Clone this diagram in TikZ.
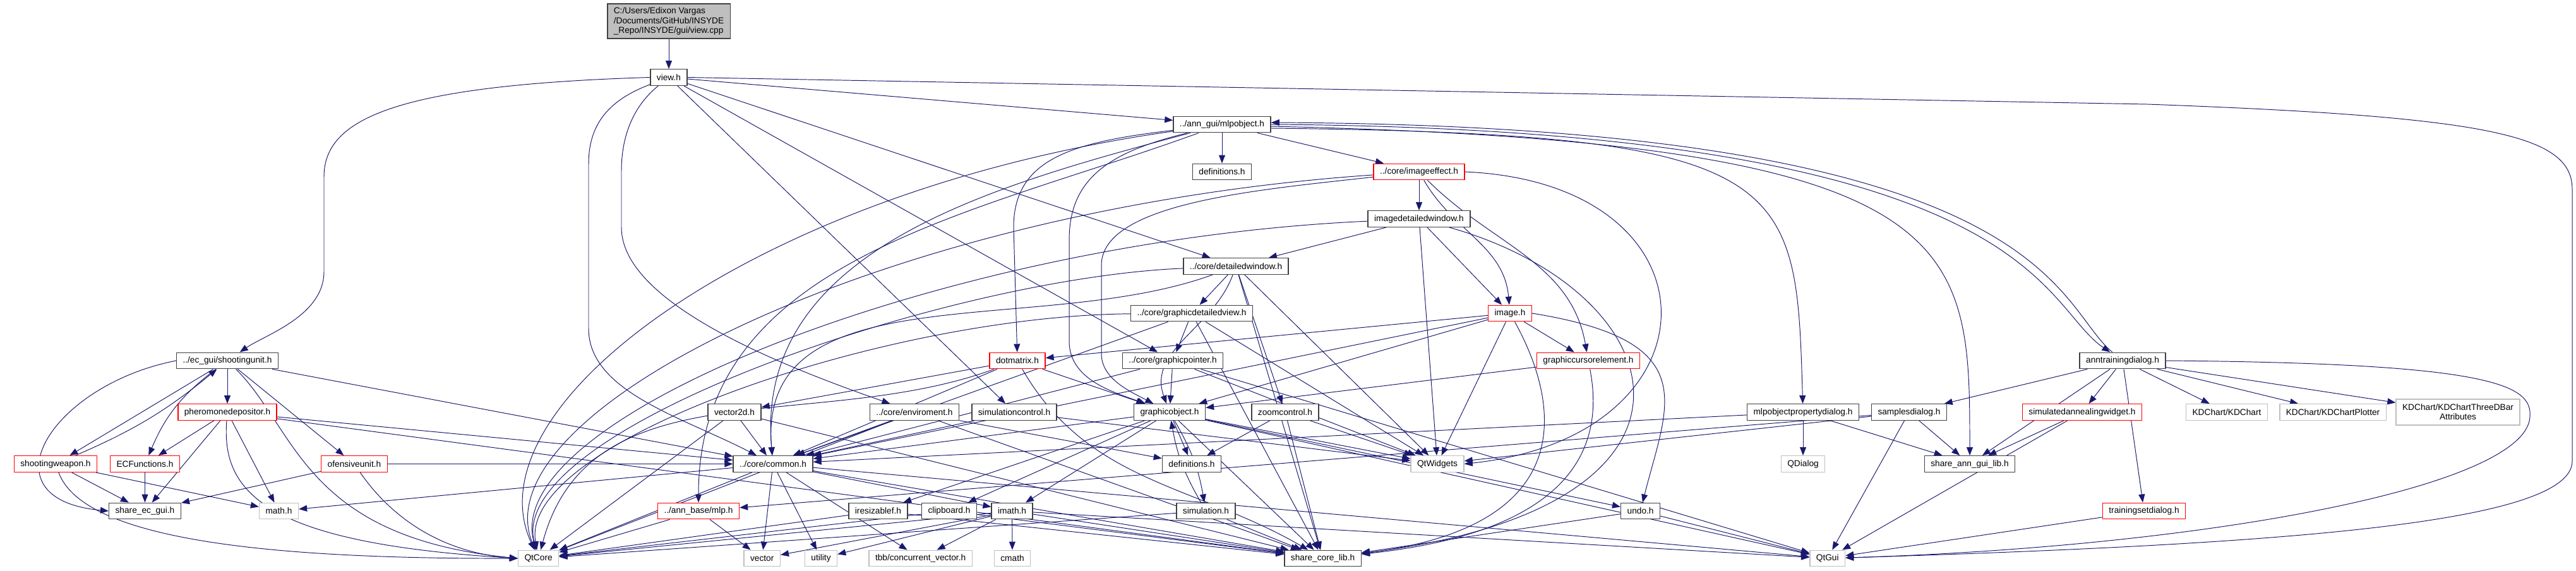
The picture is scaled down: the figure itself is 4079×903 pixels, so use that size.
\documentclass[tikz,border=0pt]{standalone}
\usepackage{fontspec}
\setmainfont{Liberation Sans}
\usepackage{tikz}
\usetikzlibrary{arrows.meta, backgrounds}
\definecolor{navy}{HTML}{191970}
\definecolor{boxgray}{HTML}{BFBFBF}

\begin{document}
\begin{tikzpicture}[x=0.02cm, y=-0.02cm,
  file/.style={draw=black!75, fill=white, line width=0.8pt, inner xsep=0.2cm, inner ysep=1pt,
    minimum height=0.51cm, font=\fontsize{7.8}{8.6}\selectfont},
  trunc/.style={file, draw=red},
  ext/.style={file, draw=boxgray},
  rootfile/.style={file, fill=boxgray, align=left, minimum height=1.1cm},
  incl/.style={draw, color=navy, line width=0.55pt, -{Triangle[length=0.26cm, width=0.2cm]}}]
\useasboundingbox (0,0) rectangle (4079,903);

\node[rootfile] (root) at (1059,33.5) {C:/Users/Edixon Vargas\\/Documents/GitHub/INSYDE\\\_Repo/INSYDE/gui/view.cpp};
\node[file] (viewh) at (1059,122.5) {view.h};
\node[file] (mlpobject) at (1935,197) {../ann\_gui/mlpobject.h};
\node[file] (defsa) at (1935,272) {definitions.h};
\node[trunc] (imageeffect) at (2247,272) {../core/imageeffect.h};
\node[file] (imgdetwin) at (2247,346.5) {imagedetailedwindow.h};
\node[file] (detwin) at (1957,421.5) {../core/detailedwindow.h};
\node[file] (grdetview) at (1887,496) {../core/graphicdetailedview.h};
\node[trunc] (image) at (2391,496) {image.h};
\node[file] (shootunit) at (360,571) {../ec\_gui/shootingunit.h};
\node[trunc] (dotmatrix) at (1611,571) {dotmatrix.h};
\node[file] (grpointer) at (1857,571) {../core/graphicpointer.h};
\node[trunc] (grcursor) at (2515,571) {graphiccursorelement.h};
\node[file] (anntrain) at (3361,571) {anntrainingdialog.h};
\node[trunc] (pheromone) at (360,652.5) {pheromonedepositor.h};
\node[file] (vector2d) at (1163,652.5) {vector2d.h};
\node[file] (enviroment) at (1448,652.5) {../core/enviroment.h};
\node[file] (simcontrol) at (1606,652.5) {simulationcontrol.h};
\node[file] (grobject) at (1852,652.5) {graphicobject.h};
\node[file] (zoomctrl) at (2035,652.5) {zoomcontrol.h};
\node[file] (mlpprop) at (2855,652.5) {mlpobjectpropertydialog.h};
\node[file] (samples) at (3023,652.5) {samplesdialog.h};
\node[trunc] (simanneal) at (3297,652.5) {simulatedannealingwidget.h};
\node[ext] (kdchart) at (3526,652.5) {KDChart/KDChart};
\node[ext] (kdplotter) at (3694,652.5) {KDChart/KDChartPlotter};
\node[ext, align=center, minimum height=0.82cm] (kdthreed) at (3892,652.5) {KDChart/KDChartThreeDBar\\Attributes};
\node[trunc] (shootweapon) at (88,734.5) {shootingweapon.h};
\node[trunc] (ecfunc) at (229.5,734.5) {ECFunctions.h};
\node[trunc] (ofensive) at (561,734.5) {ofensiveunit.h};
\node[file] (common) at (1224,734.5) {../core/common.h};
\node[file] (defsb) at (1887,734.5) {definitions.h};
\node[ext] (qtwidgets) at (2276,734.5) {QtWidgets};
\node[ext] (qdialog) at (2855,734.5) {QDialog};
\node[file] (shareann) at (3119,734.5) {share\_ann\_gui\_lib.h};
\node[file] (shareec) at (229.5,809) {share\_ec\_gui.h};
\node[ext] (math) at (441.5,809) {math.h};
\node[trunc] (mlp) at (1106,809) {../ann\_base/mlp.h};
\node[file] (iresizable) at (1390.5,809) {iresizablef.h};
\node[file] (clipboard) at (1503,809) {clipboard.h};
\node[file] (imath) at (1602.6,809) {imath.h};
\node[file] (simulation) at (1909.5,809) {simulation.h};
\node[file] (undo) at (2597.6,809) {undo.h};
\node[trunc] (trainset) at (3395,809) {trainingsetdialog.h};
\node[ext] (qtcore) at (852.6,884) {QtCore};
\node[ext] (vector) at (1206.7,884) {vector};
\node[ext] (utility) at (1300,884) {utility};
\node[ext] (tbb) at (1457.6,884) {tbb/concurrent\_vector.h};
\node[ext] (cmath) at (1603,884) {cmath};
\node[file] (sharecore) at (2094.6,884) {share\_core\_lib.h};
\node[ext] (qtgui) at (2893.7,884) {QtGui};

\begin{scope}[on background layer]
\fill[white] (0,0) rectangle (4079,903);
\path[incl] (root) edge (viewh);
\draw[incl] (viewh.west) .. controls (620,135) and (513,190) .. (513,280) -- (513,430) .. controls (513,500) and (420,530) .. (shootunit);
\draw[incl] (viewh) .. controls (960,160) and (932,200) .. (932,260) -- (932,520) .. controls (932,620) and (1080,660) .. (common);
\draw[incl] (viewh) .. controls (1000,170) and (984,220) .. (984,270) -- (984,360) .. controls (984,480) and (1240,580) .. (enviroment);
\path[incl] (viewh) edge (mlpobject) edge (detwin) edge (grpointer) edge (simcontrol);
\draw[incl] (viewh.east) -- (3400,165) .. controls (3950,185) and (4073,215) .. (4073,300) -- (4073,730) .. controls (4073,830) and (3600,862) .. (qtgui);
\path[incl] (mlpobject) edge (defsa) edge (imageeffect) edge[out=195,in=95] (common) edge[out=200,in=90] (mlp);
\draw[incl] (mlpobject) .. controls (1700,225) and (1605,250) .. (1605,360) -- (dotmatrix);
\draw[incl] (mlpobject) .. controls (1760,240) and (1693,280) .. (1693,380) -- (1693,540) .. controls (1693,600) and (1760,620) .. (grobject);
\draw[incl] (mlpobject) .. controls (1200,300) and (740,640) .. (qtcore);
\draw[incl] ([yshift=-0.12cm]mlpobject.east) .. controls (2844,212) and (2844,280) .. (mlpprop);
\draw[incl] ([yshift=-0.06cm]mlpobject.east) .. controls (3119,225) and (3119,380) .. (shareann);
\draw[incl] (mlpobject.east) .. controls (3227,205) and (3227,480) .. (anntrain);
\draw[incl] (anntrain) .. controls (3251,480) and (3251,200) .. ([yshift=0.06cm]mlpobject.east);
\path[incl] (imageeffect) edge (imgdetwin) edge[out=-60,in=95] (image) edge[out=-45,in=100] (grcursor);
\draw[incl] (imageeffect) .. controls (1400,330) and (760,650) .. (qtcore);
\draw[incl] (imageeffect) .. controls (2000,300) and (1744,320) .. (1744,420) -- (1744,560) .. controls (1744,600) and (1790,620) .. (grobject);
\draw[incl] (imageeffect.east) .. controls (2732,290) and (2732,690) .. (qtwidgets.east);
\path[incl] (imgdetwin) edge (detwin) edge (image) edge (qtwidgets);
\draw[incl] (imgdetwin) .. controls (1500,380) and (790,660) .. (qtcore);
\draw[incl] (imgdetwin) .. controls (2650,460) and (2760,800) .. (sharecore);
\path[incl] (detwin) edge (grdetview) edge (zoomctrl) edge (qtwidgets) edge (sharecore)
  edge[out=200,in=95] (common) edge[out=-110,in=110] (grobject);
\draw[incl] (detwin) .. controls (1500,440) and (800,680) .. (qtcore);
\path[incl] (grdetview) edge (grpointer) edge (qtwidgets) edge (sharecore) edge (common);
\draw[incl] (grdetview) .. controls (1400,500) and (820,700) .. (qtcore);
\path[incl] (image) edge (dotmatrix) edge (grcursor) edge (grobject) edge (qtwidgets) edge (common);
\draw[incl] (image) .. controls (2460,620) and (2520,830) .. (sharecore);
\draw[incl] (image.east) .. controls (2700,540) and (2640,640) .. (undo);
\path[incl] (grcursor) edge (grobject);
\draw[incl] (grcursor) .. controls (2540,700) and (2500,840) .. (sharecore);
\path[incl] (dotmatrix) edge (vector2d) edge (common) edge[out=200,in=75] (qtcore) edge (grobject) edge[out=-60,in=150] (sharecore);
\path[incl] (grpointer) edge (grobject) edge (common) edge (qtwidgets) edge (qtgui);
\path[incl] (shootunit) edge (pheromone) edge (shootweapon) edge[bend right=15] (ecfunc) edge (ofensive) edge (common);
\draw[incl] (shootunit.west) .. controls (80,610) and (-30,790) .. (shareec.west);
\draw[incl] (shootunit) .. controls (470,680) and (480,850) .. (qtcore.west);
\path[incl] (pheromone) edge (ecfunc) edge (shareec) edge (math) edge (common) edge (sharecore);
\draw[incl] (pheromone) .. controls (350,780) and (420,860) .. (qtcore.west);
\path[incl] (shootweapon) edge[bend right=8] (shootunit) edge (shareec) edge (math);
\draw[incl] (shootweapon) .. controls (130,850) and (400,885) .. (qtcore.west);
\path[incl] (ecfunc) edge (shareec);
\path[incl] (ofensive) edge (shareec) edge (common);
\draw[incl] (ofensive) .. controls (620,820) and (700,875) .. (qtcore.west);
\path[incl] (vector2d) edge (common) edge (qtcore) edge (sharecore);
\path[incl] (enviroment) edge (common) edge (qtcore) edge (sharecore) edge (defsb);
\path[incl] (simcontrol) edge (common) edge (qtwidgets);
\path[incl] (grobject) edge (iresizable) edge (clipboard) edge (imath) edge[bend left=10] (simulation) edge (defsb)
  edge (undo) edge (common) edge (qtwidgets) edge (sharecore) edge (qtgui);
\path[incl] (zoomctrl) edge (defsb) edge (qtwidgets) edge (sharecore);
\path[incl] (common) edge (math) edge (vector) edge (utility) edge (tbb) edge (imath) edge (qtcore) edge (sharecore) edge (qtgui);
\path[incl] (mlp) edge (vector) edge (qtcore);
\path[incl] (iresizable) edge (qtcore) edge (sharecore);
\path[incl] (clipboard) edge (qtcore) edge (sharecore);
\path[incl] (imath) edge (cmath) edge (tbb) edge (vector) edge (utility) edge (qtcore) edge (sharecore) edge (qtgui);
\path[incl] (simulation) edge[bend left=10] (grobject) edge (sharecore) edge (qtcore);
\path[incl] (undo) edge (sharecore) edge (qtgui);
\path[incl] (mlpprop) edge (qdialog) edge (shareann) edge (common);
\path[incl] (samples) edge (shareann) edge (qtgui) edge (qtwidgets) edge (mlp);
\path[incl] (simanneal) edge (shareann) edge (qtgui);
\path[incl] (anntrain) edge (samples) edge (shareann) edge (simanneal) edge (trainset) edge (kdchart) edge (kdplotter) edge (kdthreed);
\draw[incl] (anntrain.east) .. controls (3950,575) and (4010,610) .. (4006,660) .. controls (4000,770) and (3500,865) .. (qtgui);
\path[incl] (trainset) edge (qtgui);
\end{scope}
\end{tikzpicture}
\end{document}
